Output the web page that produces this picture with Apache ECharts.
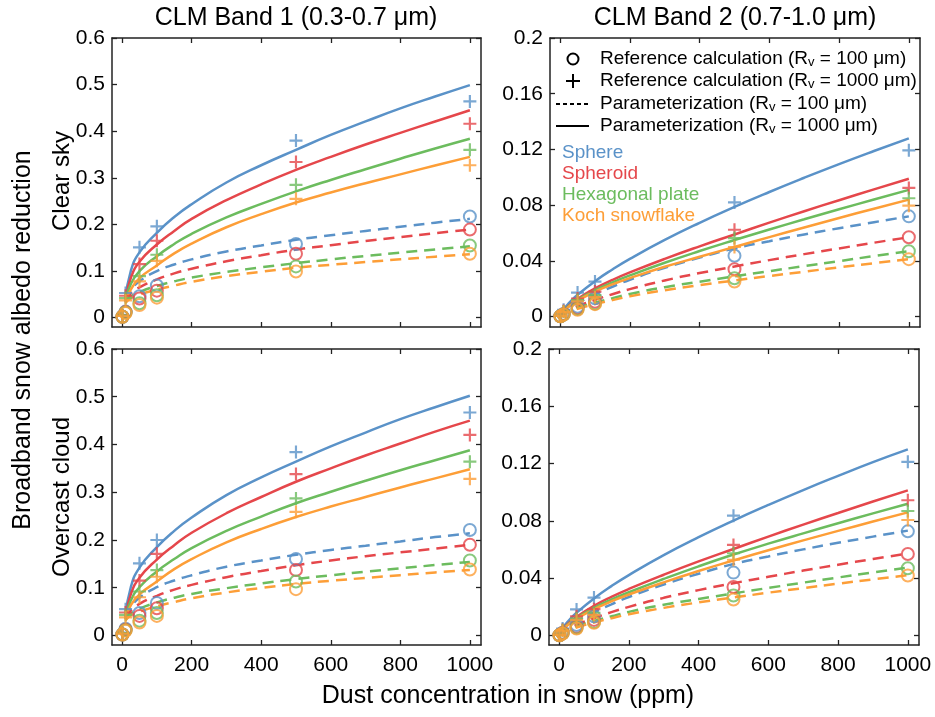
<!DOCTYPE html>
<html><head><meta charset="utf-8">
<script src="https://cdn.jsdelivr.net/npm/echarts@6/dist/echarts.min.js"></script>
<style>html,body{margin:0;padding:0;background:#fff}#c{width:935px;height:717px}</style>
</head><body><div id="c"></div><script>
// ---------- data ----------
const shapeNames = ['Sphere', 'Spheroid', 'Hexagonal plate', 'Koch snowflake'];
const shapeColors = ['#5a92c8', '#e5474b', '#6cbc5e', '#fd9e37'];
const xTicks = [0, 200, 400, 600, 800, 1000];
const yTicksBand1 = [0, 0.1, 0.2, 0.3, 0.4, 0.5, 0.6];
const yTicksBand2 = [0, 0.04, 0.08, 0.12, 0.16, 0.2];
const xRef = [1, 10, 50, 100, 500, 1000];
const xParamBand1 = [10, 25, 50, 100, 150, 200, 300, 400, 500, 600, 700, 800, 900, 1000];
const xParamBand2 = [1, 10, 25, 50, 100, 150, 200, 300, 400, 500, 600, 700, 800, 900, 1000];

// Clear sky, band 1 (rows: sphere, spheroid, hexagonal plate, koch snowflake)
const clearB1Ref100 = [
  [0.002, 0.013, 0.046, 0.069, 0.158, 0.217],
  [0.002, 0.012, 0.041, 0.058, 0.137, 0.189],
  [0.002, 0.011, 0.031, 0.048, 0.110, 0.155],
  [0.002, 0.010, 0.027, 0.043, 0.099, 0.137]];
const clearB1Ref1000 = [
  [0.006, 0.053, 0.151, 0.196, 0.380, 0.464],
  [0.005, 0.047, 0.115, 0.165, 0.334, 0.416],
  [0.005, 0.042, 0.089, 0.135, 0.285, 0.360],
  [0.004, 0.037, 0.078, 0.122, 0.255, 0.327]];
const clearB1Param1000 = [
  [0.040, 0.100, 0.140, 0.182, 0.216, 0.2435, 0.290, 0.327, 0.360, 0.392, 0.421, 0.449, 0.4745, 0.499],
  [0.040, 0.085, 0.120, 0.157, 0.186, 0.212, 0.252, 0.286, 0.317, 0.345, 0.3715, 0.3965, 0.421, 0.445],
  [0.038, 0.072, 0.100, 0.132, 0.158, 0.180, 0.215, 0.244, 0.271, 0.2955, 0.3185, 0.341, 0.363, 0.384],
  [0.036, 0.060, 0.085, 0.112, 0.138, 0.159, 0.194, 0.222, 0.247, 0.2685, 0.2885, 0.3075, 0.3265, 0.345]];
const clearB1Param100 = [
  [0.036, 0.058, 0.078, 0.100, 0.114, 0.125, 0.142, 0.155, 0.167, 0.1768, 0.1861, 0.1951, 0.2038, 0.212],
  [0.035, 0.052, 0.065, 0.082, 0.095, 0.105, 0.121, 0.134, 0.146, 0.1555, 0.1645, 0.173, 0.1812, 0.189],
  [0.033, 0.045, 0.055, 0.068, 0.078, 0.086, 0.098, 0.108, 0.117, 0.125, 0.1325, 0.1395, 0.1464, 0.153],
  [0.032, 0.042, 0.050, 0.060, 0.069, 0.077, 0.089, 0.0985, 0.107, 0.1134, 0.1194, 0.1252, 0.1308, 0.136]];

// Overcast cloud, band 1
const cloudB1Ref100 = [
  [0.002, 0.014, 0.047, 0.068, 0.160, 0.221],
  [0.002, 0.012, 0.041, 0.057, 0.137, 0.190],
  [0.002, 0.011, 0.031, 0.047, 0.113, 0.157],
  [0.002, 0.010, 0.027, 0.041, 0.097, 0.138]];
const cloudB1Ref1000 = [
  [0.006, 0.055, 0.151, 0.200, 0.384, 0.467],
  [0.005, 0.048, 0.115, 0.171, 0.338, 0.420],
  [0.005, 0.043, 0.092, 0.137, 0.287, 0.364],
  [0.004, 0.038, 0.080, 0.123, 0.259, 0.328]];
const cloudB1Param1000 = [
  [0.041, 0.101, 0.142, 0.185, 0.219, 0.247, 0.294, 0.331, 0.364, 0.396, 0.425, 0.453, 0.478, 0.502],
  [0.040, 0.086, 0.121, 0.159, 0.189, 0.215, 0.256, 0.290, 0.322, 0.350, 0.377, 0.402, 0.427, 0.450],
  [0.038, 0.073, 0.101, 0.134, 0.160, 0.183, 0.219, 0.249, 0.277, 0.301, 0.324, 0.346, 0.367, 0.388],
  [0.036, 0.063, 0.086, 0.113, 0.139, 0.160, 0.195, 0.223, 0.248, 0.270, 0.290, 0.310, 0.329, 0.348]];
const cloudB1Param100 = [
  [0.036, 0.059, 0.079, 0.101, 0.115, 0.126, 0.144, 0.157, 0.169, 0.179, 0.188, 0.197, 0.206, 0.214],
  [0.035, 0.052, 0.066, 0.083, 0.096, 0.106, 0.122, 0.135, 0.147, 0.157, 0.166, 0.174, 0.182, 0.190],
  [0.033, 0.045, 0.056, 0.069, 0.079, 0.087, 0.099, 0.109, 0.118, 0.126, 0.1335, 0.1405, 0.1475, 0.154],
  [0.032, 0.042, 0.050, 0.061, 0.070, 0.078, 0.090, 0.0995, 0.108, 0.1145, 0.1205, 0.1263, 0.132, 0.137]];

// Clear sky, band 2
const clearB2Ref100 = [
  [0.0003, 0.0020, 0.0072, 0.0132, 0.0437, 0.0720],
  [0.0003, 0.0018, 0.0060, 0.0108, 0.0340, 0.0570],
  [0.0003, 0.0016, 0.0055, 0.0095, 0.0276, 0.0470],
  [0.0003, 0.0015, 0.0050, 0.0090, 0.0252, 0.0413]];
const clearB2Ref1000 = [
  [0.0008, 0.0050, 0.0173, 0.0252, 0.0820, 0.1194],
  [0.0007, 0.0040, 0.0130, 0.0180, 0.0624, 0.0924],
  [0.0007, 0.0038, 0.0120, 0.0155, 0.0564, 0.0850],
  [0.0006, 0.0035, 0.0110, 0.0140, 0.0500, 0.0797]];
const clearB2Param1000 = [
  [0.001, 0.0051, 0.0097, 0.0157, 0.0255, 0.0339, 0.0415, 0.0551, 0.0674, 0.0788, 0.0895, 0.0997, 0.1095, 0.1189, 0.128],
  [0.0009, 0.0043, 0.008, 0.0128, 0.0203, 0.0264, 0.0318, 0.0415, 0.0505, 0.059, 0.0675, 0.0757, 0.0836, 0.0914, 0.099],
  [0.0009, 0.0041, 0.0076, 0.0121, 0.019, 0.0246, 0.0296, 0.0387, 0.0471, 0.055, 0.0626, 0.0699, 0.0771, 0.0841, 0.091],
  [0.0009, 0.0039, 0.0072, 0.0115, 0.018, 0.0232, 0.0277, 0.0358, 0.043, 0.050, 0.0571, 0.064, 0.0708, 0.0775, 0.084]];
const clearB2Param100 = [
  [0.0005, 0.003, 0.006, 0.0098, 0.016, 0.0215, 0.0265, 0.0351, 0.0424, 0.049, 0.0542, 0.059, 0.0635, 0.0678, 0.072],
  [0.0004, 0.0023, 0.0045, 0.0074, 0.012, 0.0161, 0.0198, 0.026, 0.0313, 0.036, 0.0406, 0.0449, 0.049, 0.0531, 0.057],
  [0.0004, 0.002, 0.0038, 0.0062, 0.010, 0.0133, 0.0163, 0.0212, 0.0251, 0.029, 0.0327, 0.0363, 0.0399, 0.0435, 0.047],
  [0.0004, 0.0018, 0.0034, 0.0056, 0.009, 0.0119, 0.0146, 0.019, 0.0227, 0.026, 0.0292, 0.0323, 0.0354, 0.0384, 0.0413]];

// Overcast cloud, band 2
const cloudB2Ref100 = [
  [0.0003, 0.0020, 0.0075, 0.0135, 0.0440, 0.0728],
  [0.0003, 0.0018, 0.0060, 0.0110, 0.0340, 0.0570],
  [0.0003, 0.0016, 0.0055, 0.0095, 0.0280, 0.0470],
  [0.0003, 0.0015, 0.0050, 0.0090, 0.0252, 0.0420]];
const cloudB2Ref1000 = [
  [0.0008, 0.0050, 0.0183, 0.0266, 0.0837, 0.1213],
  [0.0007, 0.0040, 0.0135, 0.0185, 0.0633, 0.0945],
  [0.0007, 0.0038, 0.0120, 0.0160, 0.0575, 0.0870],
  [0.0006, 0.0035, 0.0110, 0.0145, 0.0530, 0.0807]];
const cloudB2Param1000 = [
  [0.001, 0.0052, 0.0099, 0.016, 0.026, 0.0346, 0.0423, 0.0562, 0.0687, 0.0803, 0.0912, 0.1016, 0.1115, 0.1211, 0.130],
  [0.0009, 0.0044, 0.0082, 0.0131, 0.0208, 0.0271, 0.0326, 0.0425, 0.0518, 0.0605, 0.0691, 0.0775, 0.0856, 0.0936, 0.1014],
  [0.0009, 0.0042, 0.0078, 0.0124, 0.0195, 0.0252, 0.0303, 0.0396, 0.0484, 0.0566, 0.0642, 0.0714, 0.0784, 0.0853, 0.092],
  [0.0009, 0.004, 0.0074, 0.0118, 0.0185, 0.0239, 0.0287, 0.0372, 0.0451, 0.0525, 0.0596, 0.0665, 0.0731, 0.0796, 0.086]];
const cloudB2Param100 = [
  [0.0005, 0.003, 0.0061, 0.010, 0.0163, 0.0219, 0.027, 0.0357, 0.0432, 0.050, 0.0553, 0.0602, 0.0648, 0.0691, 0.0733],
  [0.0004, 0.0023, 0.0046, 0.0075, 0.0122, 0.0164, 0.0201, 0.0264, 0.0318, 0.0366, 0.0411, 0.0454, 0.0495, 0.0535, 0.0573],
  [0.0004, 0.002, 0.0039, 0.0063, 0.0102, 0.0135, 0.0166, 0.0216, 0.0256, 0.0295, 0.0333, 0.037, 0.0406, 0.0441, 0.0475],
  [0.0004, 0.0018, 0.0035, 0.0057, 0.0092, 0.0122, 0.0149, 0.0194, 0.0232, 0.0266, 0.030, 0.0332, 0.0363, 0.0393, 0.0422]];

// ---------- chart ----------
const FONT = 'Liberation Sans, Arial, Helvetica, sans-serif';
const AX = '#222';
const PLUS = 'path://M5,0H7V5H12V7H7V12H5V7H0V5H5Z';

const grids = [
  {left: 112, top: 38, width: 369, height: 289},
  {left: 550, top: 38, width: 370, height: 289},
  {left: 112, top: 349, width: 369, height: 296},
  {left: 549, top: 349, width: 370, height: 296}
];
const yRanges = [[-0.02, 0.6], [-0.0074, 0.2], [-0.02, 0.6], [-0.0065, 0.2]];
const yTickSets = [yTicksBand1, yTicksBand2, yTicksBand1, yTicksBand2];

const xAxes = [], yAxes = [];
grids.forEach((g, i) => {
  const bottomRow = i >= 2;
  const common = {
    type: 'value', gridIndex: i, min: -29, max: 1032,
    splitLine: {show: false},
    axisLine: {show: true, onZero: false, lineStyle: {color: AX, width: 1.5}},
    axisTick: {show: true, inside: true, length: 5, customValues: xTicks, lineStyle: {color: AX, width: 1.3}}
  };
  xAxes.push(Object.assign({}, common, {
    position: 'bottom',
    axisLabel: {show: bottomRow, customValues: xTicks, margin: 10, color: '#000', fontSize: 21, fontFamily: FONT,
      formatter: v => String(Math.round(v))}
  }));
  xAxes.push(Object.assign({}, common, {position: 'top', axisLabel: {show: false}}));
  const yc = {
    type: 'value', gridIndex: i, min: yRanges[i][0], max: yRanges[i][1],
    splitLine: {show: false},
    axisLine: {show: true, onZero: false, lineStyle: {color: AX, width: 1.5}},
    axisTick: {show: true, inside: true, length: 5, customValues: yTickSets[i], lineStyle: {color: AX, width: 1.3}}
  };
  yAxes.push(Object.assign({}, yc, {
    position: 'left',
    axisLabel: {show: true, customValues: yTickSets[i], margin: 7, color: '#000', fontSize: 21, fontFamily: FONT,
      formatter: v => (Math.abs(v) < 1e-9 ? '0' : String(+v.toFixed(3)))}
  }));
  yAxes.push(Object.assign({}, yc, {position: 'right', axisLabel: {show: false}}));
});

const zip = (xs, ys) => xs.map((x, k) => [x, ys[k]]);
const series = [];
function addPanel(g, xParam, p100, p1000, r100, r1000) {
  for (let s = 0; s < 4; s++) {
    const c = shapeColors[s];
    const base = {xAxisIndex: 2 * g, yAxisIndex: 2 * g, silent: true, animation: false};
    series.push(Object.assign({}, base, {
      type: 'line', name: shapeNames[s] + ' param 100', data: zip(xParam, p100[s]),
      showSymbol: false, symbol: 'none', smooth: 0.5, z: 2,
      lineStyle: {color: c, width: 2.5, type: [11, 7]}
    }));
    series.push(Object.assign({}, base, {
      type: 'line', name: shapeNames[s] + ' param 1000', data: zip(xParam, p1000[s]),
      showSymbol: false, symbol: 'none', smooth: 0.5, z: 2,
      lineStyle: {color: c, width: 2.5}
    }));
    series.push(Object.assign({}, base, {
      type: 'scatter', name: shapeNames[s] + ' ref 100', data: zip(xRef, r100[s]),
      symbol: 'circle', symbolSize: 12, z: 3,
      itemStyle: {color: 'rgba(255,255,255,0)', borderColor: c, borderWidth: 2}
    }));
    series.push(Object.assign({}, base, {
      type: 'scatter', name: shapeNames[s] + ' ref 1000', data: zip(xRef, r1000[s]),
      symbol: PLUS, symbolSize: 13, z: 3,
      itemStyle: {color: c}
    }));
  }
}
addPanel(0, xParamBand1, clearB1Param100, clearB1Param1000, clearB1Ref100, clearB1Ref1000);
addPanel(1, xParamBand2, clearB2Param100, clearB2Param1000, clearB2Ref100, clearB2Ref1000);
addPanel(2, xParamBand1, cloudB1Param100, cloudB1Param1000, cloudB1Ref100, cloudB1Ref1000);
addPanel(3, xParamBand2, cloudB2Param100, cloudB2Param1000, cloudB2Ref100, cloudB2Ref1000);

const LF = 19;
const rich = {v: {fontSize: 13, fontFamily: FONT, color: '#000', verticalAlign: 'bottom', padding: [6, 0, 0, 0]}};
function legendText(y, txt) {
  return {type: 'text', x: 600, y: y, style: {text: txt, fontSize: LF, fontFamily: FONT, fill: '#000', verticalAlign: 'middle', rich: rich}};
}
const graphic = [
  {type: 'circle', shape: {cx: 573, cy: 59, r: 5.5}, style: {fill: 'none', stroke: '#000', lineWidth: 2}},
  legendText(59, 'Reference calculation (R{v|v} = 100 μm)'),
  {type: 'line', shape: {x1: 566, y1: 81, x2: 580, y2: 81}, style: {stroke: '#000', lineWidth: 2}},
  {type: 'line', shape: {x1: 573, y1: 74, x2: 573, y2: 88}, style: {stroke: '#000', lineWidth: 2}},
  legendText(81, 'Reference calculation (R{v|v} = 1000 μm)'),
  {type: 'line', shape: {x1: 556, y1: 104, x2: 589, y2: 104}, style: {stroke: '#000', lineWidth: 2, lineDash: [4, 3]}},
  legendText(104, 'Parameterization (R{v|v} = 100 μm)'),
  {type: 'line', shape: {x1: 556, y1: 126, x2: 589, y2: 126}, style: {stroke: '#000', lineWidth: 2.2}},
  legendText(126, 'Parameterization (R{v|v} = 1000 μm)')
];
shapeNames.forEach((n, k) => {
  graphic.push({type: 'text', x: 562, y: 153 + k * 21, style: {text: n, fontSize: 19, fontFamily: FONT, fill: shapeColors[k], verticalAlign: 'middle'}});
});
// axis / panel titles
const TF = 25;
graphic.push({type: 'text', x: 296, y: 18, style: {text: 'CLM Band 1 (0.3-0.7 μm)', fontSize: TF, fontFamily: FONT, fill: '#000', align: 'center', verticalAlign: 'middle'}});
graphic.push({type: 'text', x: 735, y: 18, style: {text: 'CLM Band 2 (0.7-1.0 μm)', fontSize: TF, fontFamily: FONT, fill: '#000', align: 'center', verticalAlign: 'middle'}});
graphic.push({type: 'text', x: 508, y: 696, style: {text: 'Dust concentration in snow (ppm)', fontSize: TF, fontFamily: FONT, fill: '#000', align: 'center', verticalAlign: 'middle'}});
graphic.push({type: 'text', x: 23, y: 340, rotation: Math.PI / 2, style: {text: 'Broadband snow albedo reduction', fontSize: TF, fontFamily: FONT, fill: '#000', align: 'center', verticalAlign: 'middle'}});
graphic.push({type: 'text', x: 62, y: 181, rotation: Math.PI / 2, style: {text: 'Clear sky', fontSize: 24, fontFamily: FONT, fill: '#000', align: 'center', verticalAlign: 'middle'}});
graphic.push({type: 'text', x: 62, y: 497, rotation: Math.PI / 2, style: {text: 'Overcast cloud', fontSize: 24, fontFamily: FONT, fill: '#000', align: 'center', verticalAlign: 'middle'}});

const chart = echarts.init(document.getElementById('c'), null, {renderer: 'canvas'});
chart.setOption({
  animation: false,
  backgroundColor: '#fff',
  grid: grids,
  xAxis: xAxes,
  yAxis: yAxes,
  series: series,
  graphic: graphic
});
</script></body></html>
